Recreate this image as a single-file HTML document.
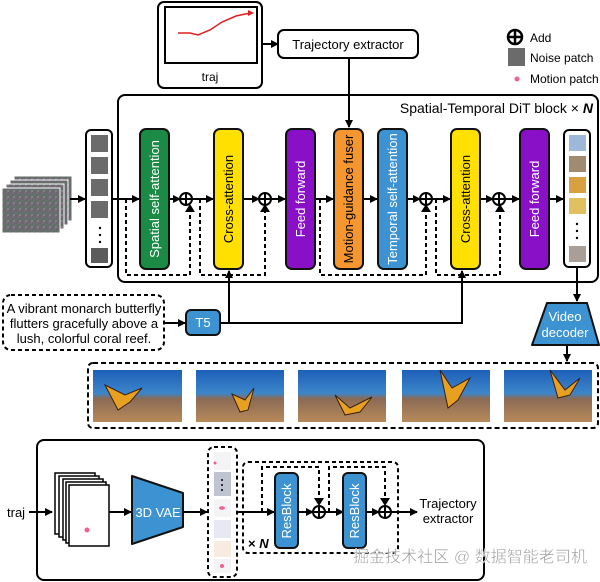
<!DOCTYPE html>
<html><head><meta charset="utf-8"><style>
html,body{margin:0;padding:0;background:#fff;}
svg{display:block;font-family:"Liberation Sans","Noto Sans CJK SC",sans-serif;}
</style></head><body>
<svg width="600" height="582" viewBox="0 0 600 582" xmlns="http://www.w3.org/2000/svg">
<defs>
<marker id="ar" markerWidth="8" markerHeight="8" refX="7" refY="4" orient="auto" markerUnits="userSpaceOnUse"><path d="M0,0 L8,4 L0,8 z" fill="#000"/></marker>
<linearGradient id="sea" x1="0" y1="0" x2="0" y2="1"><stop offset="0" stop-color="#1d5fb8"/><stop offset="0.45" stop-color="#3d86c9"/><stop offset="0.55" stop-color="#8a6a55"/><stop offset="1" stop-color="#b88a5a"/></linearGradient>
<pattern id="noise" width="6" height="6" patternUnits="userSpaceOnUse"><rect width="6" height="6" fill="#6a6a6e"/><rect x="0" y="0" width="2" height="2" fill="#7a6a80"/><rect x="3" y="2" width="2" height="2" fill="#5c7a6a"/><rect x="1" y="4" width="2" height="2" fill="#828282"/></pattern>
</defs>

<rect x="158" y="2" width="104" height="86" rx="6" fill="#fff" stroke="#000" stroke-width="2"/>
<rect x="165" y="7" width="92" height="56" fill="#fff" stroke="#000" stroke-width="2"/>
<path d="M178,33 L190,33 L198,35 L210,30 L222,22 L236,16 L250,13" fill="none" stroke="#e02020" stroke-width="1.5"/>
<path d="M248,10 L254,13 L248,16z" fill="#e02020"/>
<text x="210" y="81" font-size="12" text-anchor="middle">traj</text>
<line x1="262" y1="44" x2="278" y2="44" stroke="#000" stroke-width="2" marker-end="url(#ar)"/>
<rect x="278" y="30" width="140" height="28" rx="6" fill="#fff" stroke="#000" stroke-width="2"/>
<text x="348" y="49" font-size="13" text-anchor="middle">Trajectory extractor</text>
<line x1="349" y1="58" x2="349" y2="127" stroke="#000" stroke-width="2" marker-end="url(#ar)"/>

<circle cx="515" cy="37" r="7" fill="#fff" stroke="#000" stroke-width="2.5"/>
<path d="M515,31 V43 M509,37 H521" stroke="#000" stroke-width="2.5"/>
<text x="530" y="42" font-size="12">Add</text>
<rect x="508" y="48" width="17" height="18" fill="#6b6b6b"/>
<text x="530" y="62" font-size="12">Noise patch</text>
<circle cx="517" cy="79" r="2.5" fill="#f06090"/>
<text x="530" y="83" font-size="12">Motion patch</text>

<rect x="118" y="95" width="480" height="187" rx="7" fill="none" stroke="#000" stroke-width="2"/>
<text x="593" y="113" font-size="14" text-anchor="end">Spatial-Temporal DiT block × <tspan font-style="italic" font-weight="bold">N</tspan></text>

<rect x="14" y="176" width="58" height="45" fill="url(#noise)" stroke="#fff" stroke-width="1"/>
<rect x="10" y="180" width="58" height="45" fill="url(#noise)" stroke="#fff" stroke-width="1"/>
<rect x="6" y="184" width="58" height="45" fill="url(#noise)" stroke="#fff" stroke-width="1"/>
<rect x="2" y="188" width="58" height="45" fill="url(#noise)" stroke="#fff" stroke-width="1"/>
<line x1="70" y1="199" x2="85" y2="199" stroke="#000" stroke-width="2" marker-end="url(#ar)"/>

<rect x="86" y="130" width="26" height="137" rx="5" fill="#fff" stroke="#000" stroke-width="2"/>
<rect x="91" y="135" width="17" height="17" fill="#6b6b6b"/>
<rect x="91" y="157" width="17" height="17" fill="#6b6b6b"/>
<rect x="91" y="179" width="17" height="17" fill="#6b6b6b"/>
<rect x="91" y="201" width="17" height="17" fill="#6b6b6b"/>
<circle cx="100" cy="228" r="1.2"/><circle cx="100" cy="235" r="1.2"/><circle cx="100" cy="242" r="1.2"/>
<rect x="91" y="248" width="17" height="15" fill="#5b5b5b"/>

<g stroke="#000" stroke-width="2" fill="none">
<line x1="112" y1="199" x2="139" y2="199" marker-end="url(#ar)"/>
<line x1="169" y1="199" x2="180" y2="199" marker-end="url(#ar)"/>
<line x1="192" y1="199" x2="213" y2="199" marker-end="url(#ar)"/>
<line x1="243" y1="199" x2="259" y2="199" marker-end="url(#ar)"/>
<line x1="271" y1="199" x2="285" y2="199" marker-end="url(#ar)"/>
<line x1="315" y1="199" x2="333" y2="199" marker-end="url(#ar)"/>
<line x1="363" y1="199" x2="377" y2="199" marker-end="url(#ar)"/>
<line x1="407" y1="199" x2="420" y2="199" marker-end="url(#ar)"/>
<line x1="432" y1="199" x2="450" y2="199" marker-end="url(#ar)"/>
<line x1="480" y1="199" x2="493" y2="199" marker-end="url(#ar)"/>
<line x1="505" y1="199" x2="519" y2="199" marker-end="url(#ar)"/>
<line x1="549" y1="199" x2="563" y2="199" marker-end="url(#ar)"/>
</g>
<g stroke="#000" stroke-width="2" fill="none" stroke-dasharray="4,3">
<path d="M126,199 V275 H190 V208"/>
<path d="M200,199 V275 H265 V208"/>
<path d="M320,199 V275 H426 V208"/>
<path d="M436,199 V275 H500 V208"/>
</g>
<g fill="#000">
<path d="M185,212 L190,204 L195,212z"/><path d="M260,212 L265,204 L270,212z"/>
<path d="M421,212 L426,204 L431,212z"/><path d="M495,212 L500,204 L505,212z"/>
</g>
<g stroke="#000" stroke-width="2" fill="#fff">
<circle cx="186" cy="199" r="6"/><circle cx="265" cy="199" r="6"/><circle cx="426" cy="199" r="6"/><circle cx="499" cy="199" r="6"/>
</g>
<g stroke="#000" stroke-width="2"><path d="M186,193V205M180,199H192M265,193V205M259,199H271M426,193V205M420,199H432M499,193V205M493,199H505"/></g>

<g stroke="#111" stroke-width="2">
<rect x="140" y="129" width="29" height="140" rx="6" fill="#1a8a45"/>
<rect x="214" y="129" width="29" height="140" rx="6" fill="#ffe000"/>
<rect x="286" y="129" width="29" height="140" rx="6" fill="#8a10c8"/>
<rect x="334" y="129" width="29" height="140" rx="6" fill="#f5962e"/>
<rect x="378" y="129" width="29" height="140" rx="6" fill="#3d93d1"/>
<rect x="451" y="129" width="29" height="140" rx="6" fill="#ffe000"/>
<rect x="520" y="129" width="29" height="140" rx="6" fill="#8a10c8"/>
</g>
<g font-size="13" text-anchor="middle">
<text transform="translate(159,199) rotate(-90)" fill="#fff">Spatial self-attention</text>
<text transform="translate(233,199) rotate(-90)" fill="#000">Cross-attention</text>
<text transform="translate(305,199) rotate(-90)" fill="#fff">Feed forward</text>
<text transform="translate(353,199) rotate(-90)" fill="#000">Motion-guidance fuser</text>
<text transform="translate(397,199) rotate(-90)" fill="#fff">Temporal self-attention</text>
<text transform="translate(470,199) rotate(-90)" fill="#000">Cross-attention</text>
<text transform="translate(539,199) rotate(-90)" fill="#fff">Feed forward</text>
</g>

<rect x="564" y="130" width="26" height="137" rx="5" fill="#fff" stroke="#000" stroke-width="2"/>
<rect x="569" y="135" width="17" height="16" fill="#9db8d8"/>
<rect x="569" y="156" width="17" height="16" fill="#a08a70"/>
<rect x="569" y="177" width="17" height="16" fill="#d8a040"/>
<rect x="569" y="198" width="17" height="16" fill="#e0c060"/>
<circle cx="577" cy="224" r="1.2"/><circle cx="577" cy="231" r="1.2"/><circle cx="577" cy="238" r="1.2"/>
<rect x="569" y="246" width="17" height="16" fill="#a8a098"/>

<rect x="3" y="295" width="161" height="55" rx="8" fill="#fff" stroke="#000" stroke-width="2" stroke-dasharray="4,3"/>
<g font-size="13" text-anchor="middle"><text x="84" y="313">A vibrant monarch butterfly</text><text x="84" y="328">flutters gracefully above a</text><text x="84" y="343">lush, colorful coral reef.</text></g>
<line x1="164" y1="323" x2="185" y2="323" stroke="#000" stroke-width="2" marker-end="url(#ar)"/>
<rect x="186" y="310" width="34" height="25" rx="5" fill="#3d93d1" stroke="#111" stroke-width="2"/>
<text x="203" y="327" font-size="13" fill="#fff" text-anchor="middle">T5</text>
<g stroke="#000" stroke-width="2" fill="none">
<path d="M220,323 H462 V271" marker-end="url(#ar)"/>
<path d="M229,323 V271" marker-end="url(#ar)"/>
<line x1="577" y1="267" x2="577" y2="301" marker-end="url(#ar)"/>
<line x1="567" y1="345" x2="567" y2="361" marker-end="url(#ar)"/>
</g>
<path d="M547,303 L587,303 L599,345 L532,345 Z" fill="#3d93d1" stroke="#111" stroke-width="2" stroke-linejoin="round"/>
<text x="565" y="321" font-size="13" fill="#fff" text-anchor="middle">Video</text>
<text x="565" y="337" font-size="13" fill="#fff" text-anchor="middle">decoder</text>

<rect x="88" y="363" width="510" height="65" rx="5" fill="none" stroke="#000" stroke-width="2" stroke-dasharray="5,3"/>
<g>
<rect x="93" y="370" width="89" height="52" fill="url(#sea)"/>
<rect x="196" y="370" width="88" height="52" fill="url(#sea)"/>
<rect x="298" y="370" width="88" height="52" fill="url(#sea)"/>
<rect x="402" y="370" width="88" height="52" fill="url(#sea)"/>
<rect x="504" y="370" width="88" height="52" fill="url(#sea)"/>
</g>
<g fill="#e8a020" stroke="#3a2010" stroke-width="1">
<path d="M105,385 L125,395 L142,388 L130,402 L118,410z"/>
<path d="M232,394 L245,400 L254,388 L248,410 L240,412z"/>
<path d="M335,395 L350,408 L372,397 L360,412 L345,415z"/>
<path d="M440,370 L452,388 L470,378 L458,400 L448,408z"/>
<path d="M550,370 L565,390 L580,378 L570,395 L558,398z"/>
</g>

<rect x="37" y="440" width="447" height="140" rx="7" fill="none" stroke="#000" stroke-width="2"/>
<text x="7" y="517" font-size="13">traj</text>
<line x1="29" y1="512" x2="52" y2="512" stroke="#000" stroke-width="2" marker-end="url(#ar)"/>
<g fill="#fff" stroke="#000" stroke-width="1.5">
<rect x="55" y="473" width="40" height="61"/><rect x="59" y="476" width="40" height="61"/><rect x="63" y="479" width="40" height="61"/><rect x="66" y="482" width="40" height="61"/><rect x="69" y="485" width="40" height="61"/>
</g>
<circle cx="87" cy="530" r="2.5" fill="#f06090"/>
<line x1="109" y1="512" x2="131" y2="512" stroke="#000" stroke-width="2" marker-end="url(#ar)"/>
<path d="M132,476 L183,493 L183,527 L132,544 Z" fill="#3d93d1" stroke="#111" stroke-width="2" stroke-linejoin="round"/>
<text x="158" y="517" font-size="13" fill="#fff" text-anchor="middle">3D VAE</text>
<line x1="183" y1="512" x2="207" y2="512" stroke="#000" stroke-width="2" marker-end="url(#ar)"/>
<rect x="208" y="447" width="29" height="130" rx="6" fill="none" stroke="#000" stroke-width="2" stroke-dasharray="4,3"/>
<rect x="214" y="452" width="17" height="18" fill="#f4f4f6"/><circle cx="215" cy="463" r="1.5" fill="#f06090"/>
<rect x="214" y="472" width="17" height="24" fill="#c0c4d0"/>
<rect x="214" y="499" width="17" height="18" fill="#f4f4f6"/><ellipse cx="222" cy="508" rx="3" ry="1.8" fill="#f06090"/>
<rect x="214" y="520" width="17" height="18" fill="#e8e8f2"/>
<rect x="214" y="541" width="17" height="16" fill="#f8ece0"/>
<rect x="214" y="559" width="17" height="14" fill="#f4f4f6"/><circle cx="222" cy="566" r="2" fill="#f06090"/>
<circle cx="222" cy="480" r="1"/><circle cx="222" cy="485" r="1"/><circle cx="222" cy="490" r="1"/>

<rect x="243" y="462" width="155" height="91" rx="5" fill="none" stroke="#000" stroke-width="2" stroke-dasharray="4,3"/>
<g stroke="#000" stroke-width="2" fill="none">
<line x1="237" y1="512" x2="274" y2="512" marker-end="url(#ar)"/>
<line x1="298" y1="512" x2="313" y2="512" marker-end="url(#ar)"/>
<line x1="325" y1="512" x2="343" y2="512" marker-end="url(#ar)"/>
<line x1="366" y1="512" x2="379" y2="512" marker-end="url(#ar)"/>
<line x1="391" y1="512" x2="417" y2="512" marker-end="url(#ar)"/>
<path d="M262,512 V467 H319 V500" stroke-dasharray="4,3"/>
<path d="M329,512 V467 H385 V500" stroke-dasharray="4,3"/>
</g>
<path d="M314,498 L324,498 L319,506z M380,498 L390,498 L385,506z" fill="#000"/>
<g stroke="#000" stroke-width="2" fill="#fff"><circle cx="319" cy="512" r="6"/><circle cx="385" cy="512" r="6"/></g>
<path d="M319,506V518M313,512H325M385,506V518M379,512H391" stroke="#000" stroke-width="2"/>
<rect x="275" y="473" width="23" height="75" rx="5" fill="#3d93d1" stroke="#111" stroke-width="2"/>
<rect x="343" y="473" width="23" height="75" rx="5" fill="#3d93d1" stroke="#111" stroke-width="2"/>
<text transform="translate(291,511) rotate(-90)" font-size="13" fill="#fff" text-anchor="middle">ResBlock</text>
<text transform="translate(359,511) rotate(-90)" font-size="13" fill="#fff" text-anchor="middle">ResBlock</text>
<text x="248" y="548" font-size="13" font-weight="bold">× <tspan font-style="italic">N</tspan></text>
<text x="448" y="508" font-size="13" text-anchor="middle">Trajectory</text>
<text x="448" y="523" font-size="13" text-anchor="middle">extractor</text>
<text x="353" y="562" font-size="16" fill="#999" stroke="#fff" stroke-width="0.4" textLength="234">掘金技术社区 @ 数据智能老司机</text>
</svg>
</body></html>
